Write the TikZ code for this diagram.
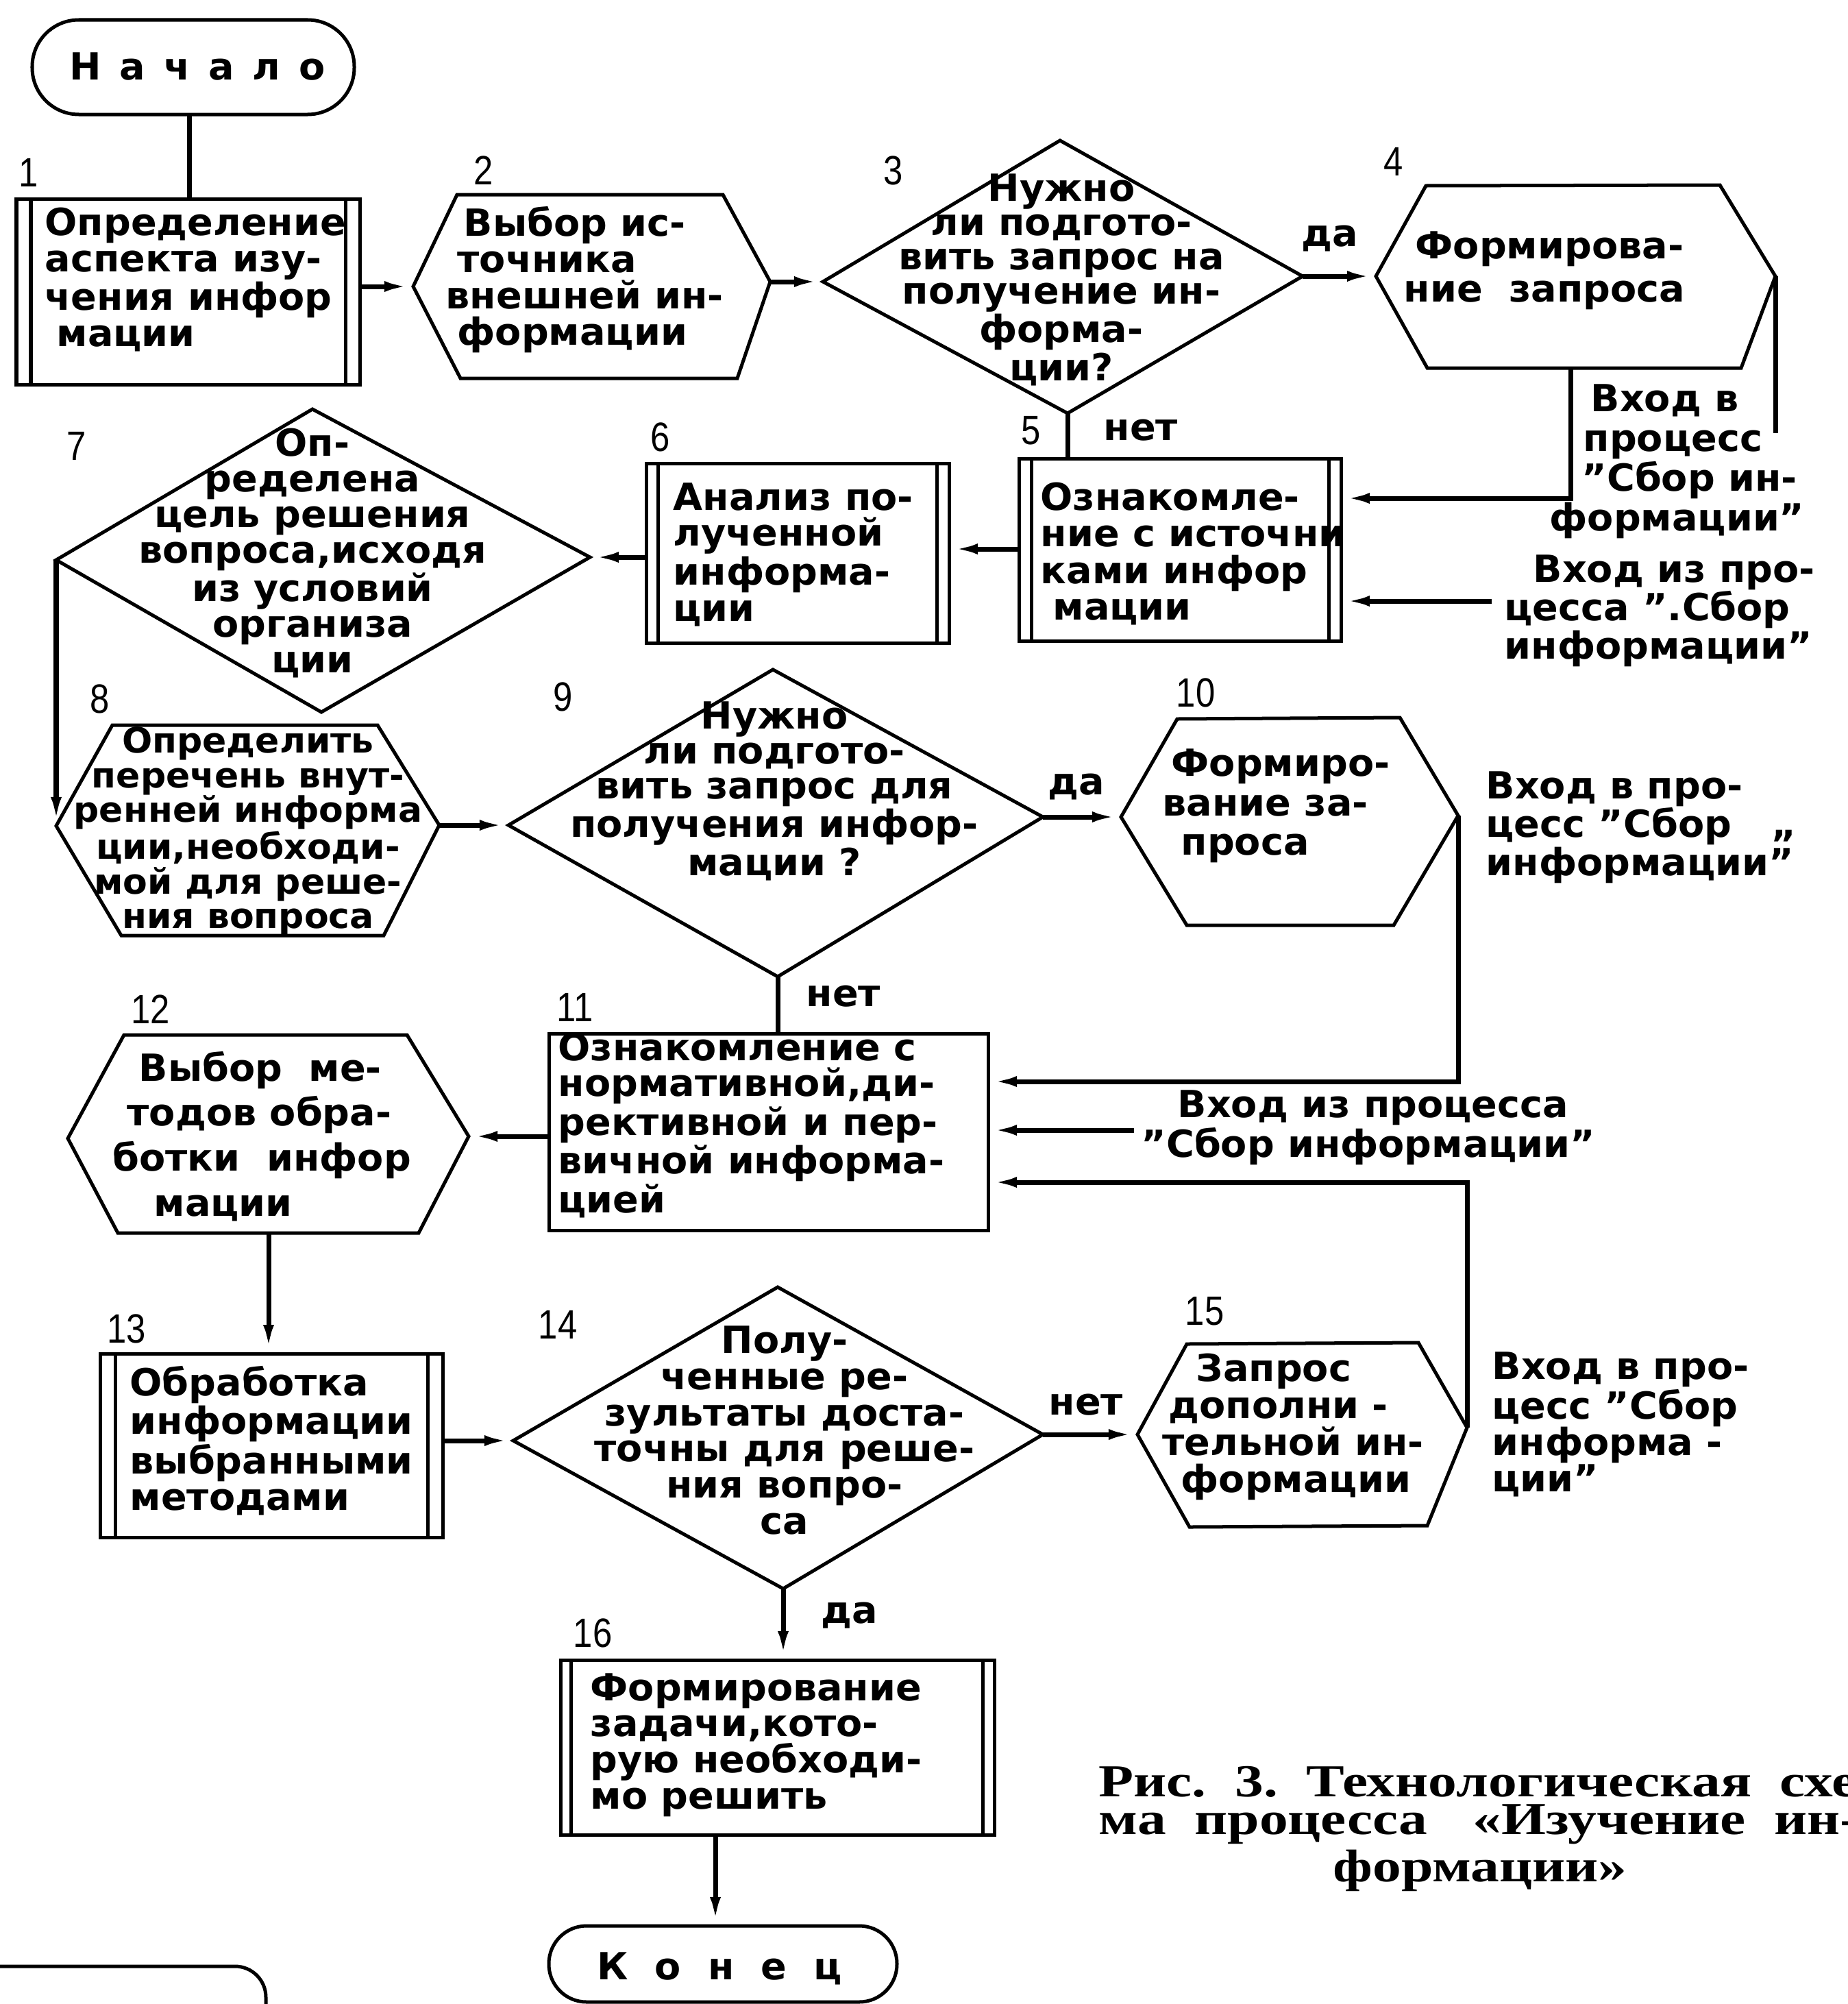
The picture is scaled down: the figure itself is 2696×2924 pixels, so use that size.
\documentclass[tikz,border=0pt]{standalone}
\usepackage{fontspec}
\setmainfont{DejaVu Sans}[FakeStretch=1.02]
\newfontfamily\numfont{Liberation Sans}[FakeStretch=0.85]
\newfontfamily\capfont{Liberation Serif}[FakeStretch=1.25]
\usetikzlibrary{arrows.meta}
\newcommand\tf[1]{\fontsize{15.5}{#1}\selectfont\bfseries}
\newcommand\lsa{\hspace{0.27cm}}
\newcommand\lsb{\hspace{0.39cm}}
\begin{document}
\begin{tikzpicture}[x=0.01cm,y=-0.01cm,
  shp/.style={line width=0.05cm,line join=miter},
  con/.style={line width=0.07cm},
  arr/.style={con,-{Latex[length=0.42cm,width=0.15cm]}},
  txt/.style={inner sep=0pt,align=left,anchor=west,font=\tf{15pt}},
  ctxt/.style={inner sep=0pt,align=center,font=\tf{14.5pt}},
  num/.style={inner sep=0pt,font=\numfont\fontsize{17}{17}\selectfont},
  lbl/.style={inner sep=0pt,font=\tf{15pt}},
  capt/.style={inner sep=0pt,anchor=west,font=\capfont\bfseries\fontsize{19}{19}\selectfont}]
\useasboundingbox (0,0) rectangle (2696,2924);

% ---------- start
\draw[shp,rounded corners=0.68cm] (47,29) rectangle (517,167);
\node[lbl] (start) at (288,97) {Н\lsa а\lsa ч\lsa а\lsa л\lsa о};
\coordinate (startS) at (276,167);

% ---------- box 1
\coordinate (b1N) at (276,290); \coordinate (b1E) at (525,418);
\draw[shp] (24,290) rectangle (525,561);
\draw[shp] (45,290) -- (45,561) (504,290) -- (504,561);
\node[txt] (t1) at (65,408) {Определение\\аспекта изу-\\чения инфор\\\hspace*{0.17cm}мации};
\node[num] (n1) at (42,252) {1};

% ---------- hex 2
\coordinate (h2W) at (603,418); \coordinate (h2E) at (1124,411);
\draw[shp] (h2W) -- (667,284) -- (1055,284) -- (h2E) -- (1076,552) -- (672,552) -- cycle;
\node[txt] (t2) at (650,408) {\hspace*{0.26cm}Выбор ис-\\\hspace*{0.17cm}точника\\внешней ин-\\\hspace*{0.17cm}формации};
\node[num] (n2) at (706,249) {2};

% ---------- diamond 3
\coordinate (d3W) at (1201,411); \coordinate (d3N) at (1547,205);
\coordinate (d3E) at (1901,403); \coordinate (d3S) at (1558,603);
\draw[shp] (d3W) -- (d3N) -- (d3E) -- (d3S) -- cycle;
\node[ctxt,font=\tf{14.2pt}] (t3) at (1549,408) {Нужно\\ли подгото-\\вить запрос на\\получение ин-\\форма-\\ции?};
\node[num] (n3) at (1304,249) {3};
\node[lbl] (da3) at (1941,348) {да};

% ---------- hex 4
\coordinate (h4W) at (2008,403); \coordinate (h4E) at (2591,403);
\coordinate (h4S) at (2292,537); \coordinate (x4) at (2591,632);
\draw[shp] (h4W) -- (2081,271) -- (2510,270) -- (h4E) -- (2541,537) -- (2083,537) -- cycle;
\node[txt,font=\tf{17.9pt}] (t4) at (2048,395) {\hspace*{0.17cm}Формирова-\\ние\ \ запроса};
\node[num] (n4) at (2034,236) {4};
\node[txt,font=\tf{16.5pt}] (e4) at (2261,673) {\hspace*{0.6cm}Вход в\\\hspace*{0.49cm}процесс\\\hspace*{0.47cm}”Сбор ин-\\формации”};

% ---------- box 5
\coordinate (b5N) at (1558,669); \coordinate (b5E1) at (1957,727);
\coordinate (b5E2) at (1957,877); \coordinate (in5) at (2177,877);
\coordinate (b5W) at (1487,801);
\draw[shp] (1487,669) rectangle (1957,935);
\draw[shp] (1505,669) -- (1505,935) (1939,669) -- (1939,935);
\node[txt,font=\tf{15.2pt}] (t5) at (1518,808) {Ознакомле-\\ние с источни\\ками инфор\\\hspace*{0.18cm}мации};
\node[num] (n5) at (1505,628) {5};
\node[lbl] (net3) at (1665,628) {нет};
\node[txt,font=\tf{15.9pt}] (e5) at (2195,891) {\hspace*{0.42cm}Вход из про-\\цесса ”.Сбор\\информации”};

% ---------- box 6
\coordinate (b6E) at (1385,801); \coordinate (b6W) at (943,813);
\draw[shp] (943,676) rectangle (1385,938);
\draw[shp] (960,676) -- (960,938) (1367,676) -- (1367,938);
\node[txt,font=\tf{15pt}] (t6) at (982,809) {Анализ по-\\лученной\\информа-\\ции};
\node[num] (n6) at (964,638) {6};

% ---------- diamond 7
\coordinate (d7N) at (456,597); \coordinate (d7W) at (82,817);
\coordinate (d7E) at (861,813); \coordinate (d7S) at (469,1039);
\draw[shp] (d7W) -- (d7N) -- (d7E) -- (d7S) -- cycle;
\node[ctxt,font=\tf{14.8pt}] (t7) at (456,807) {Оп-\\ределена\\цель решения\\вопроса,исходя\\из условий\\организа\\ции};
\node[num] (n7) at (112,651) {7};

% ---------- hex 8
\coordinate (h8W) at (82,1205); \coordinate (h8E) at (641,1204);
\draw[shp] (h8W) -- (164,1058) -- (551,1058) -- (h8E) -- (560,1365) -- (177,1365) -- cycle;
\node[ctxt,font=\fontsize{14.5}{14.3}\selectfont\bfseries] (t8) at (362,1213) {Определить\\перечень внут-\\ренней информа\\ции,необходи-\\мой для реше-\\ния вопроса};
\node[num] (n8) at (146,1020) {8};

% ---------- diamond 9
\coordinate (d9N) at (1128,977); \coordinate (d9W) at (742,1204);
\coordinate (d9E) at (1522,1192); \coordinate (d9S) at (1135,1425);
\draw[shp] (d9W) -- (d9N) -- (d9E) -- (d9S) -- cycle;
\node[ctxt,font=\tf{14.5pt}] (t9) at (1130,1154) {Нужно\\ли подгото-\\вить запрос для\\получения инфор-\\мации ?};
\node[num] (n9) at (822,1017) {9};
\node[lbl] (da9) at (1571,1148) {да};
\node[lbl] (net9) at (1231,1454) {нет};

% ---------- hex 10
\coordinate (h10W) at (1636,1192); \coordinate (h10E) at (2128,1190);
\draw[shp] (h10W) -- (1718,1049) -- (2043,1047) -- (h10E) -- (2034,1350) -- (1732,1350) -- cycle;
\node[txt,font=\tf{16.3pt}] (t10) at (1696,1176) {\hspace*{0.13cm}Формиро-\\вание за-\\\hspace*{0.27cm}проса};
\node[num] (n10) at (1745,1011) {10};
\node[txt,font=\tf{15.9pt}] (e10) at (2168,1207) {Вход в про-\\цесс ”Сбор\ \ \ „\\информации”};

% ---------- box 11
\coordinate (b11N) at (1135,1508); \coordinate (b11W) at (801,1658);
\coordinate (b11E1) at (1442,1578); \coordinate (b11E2) at (1442,1649);
\coordinate (b11E3) at (1442,1725); \coordinate (in11) at (1655,1649);
\draw[shp] (801,1508) rectangle (1442,1795);
\node[txt,font=\tf{14.7pt}] (t11) at (814,1642) {Ознакомление с\\нормативной,ди-\\рективной и пер-\\вичной информа-\\цией};
\node[num] (n11) at (839,1470) {11};
\node[txt,font=\tf{14.8pt}] (e11) at (1665,1645) {\hspace*{0.53cm}Вход из процесса\\”Сбор информации”};

% ---------- hex 12
\coordinate (h12E) at (684,1658); \coordinate (h12S) at (392,1799);
\draw[shp] (99,1661) -- (181,1510) -- (594,1510) -- (h12E) -- (611,1799) -- (172,1799) -- cycle;
\node[txt,font=\tf{18.7pt}] (t12) at (164,1658) {\hspace*{0.38cm}Выбор\ \ ме-\\\hspace*{0.21cm}тодов обра-\\ботки\ \ инфор\\\hspace*{0.6cm}мации};
\node[num] (n12) at (220,1473) {12};

% ---------- box 13
\coordinate (b13N) at (392,1975); \coordinate (b13E) at (646,2102);
\draw[shp] (146,1975) rectangle (646,2243);
\draw[shp] (168,1975) -- (168,2243) (624,1975) -- (624,2243);
\node[txt,font=\tf{14.9pt}] (t13) at (189,2102) {Обработка\\информации\\выбранными\\методами};
\node[num] (n13) at (185,1939) {13};

% ---------- diamond 14
\coordinate (d14N) at (1135,1878); \coordinate (d14W) at (749,2102);
\coordinate (d14E) at (1522,2093); \coordinate (d14S) at (1143,2318);
\draw[shp] (d14W) -- (d14N) -- (d14E) -- (d14S) -- cycle;
\node[ctxt,font=\tf{15pt}] (t14) at (1145,2087) {Полу-\\ченные ре-\\зультаты доста-\\точны для реше-\\ния вопро-\\са};
\node[num] (n14) at (814,1933) {14};
\node[lbl] (net14) at (1585,2050) {нет};
\node[lbl] (da14) at (1240,2357) {да};

% ---------- hex 15
\coordinate (h15W) at (1660,2093); \coordinate (h15E) at (2141,2083);
\draw[shp] (h15W) -- (1732,1961) -- (2070,1959) -- (h15E) -- (2083,2226) -- (1736,2228) -- cycle;
\node[txt,font=\tf{15.4pt}] (t15) at (1696,2082) {\hspace*{0.49cm}Запрос\\\hspace*{0.09cm}дополни -\\тельной ин-\\\hspace*{0.27cm}формации};
\node[num] (n15) at (1758,1913) {15};
\node[txt,font=\tf{15.1pt}] (e15) at (2177,2078) {Вход в про-\\цесс ”Сбор\\информа -\\ции”};

% ---------- box 16
\coordinate (b16N) at (1143,2422); \coordinate (b16S) at (1044,2677);
\draw[shp] (818,2422) rectangle (1451,2677);
\draw[shp] (833,2422) -- (833,2677) (1434,2422) -- (1434,2677);
\node[txt,font=\tf{15pt}] (t16) at (861,2546) {Формирование\\задачи,кото-\\рую необходи-\\мо решить};
\node[num] (n16) at (865,2383) {16};

% ---------- end
\coordinate (endN) at (1044,2810);
\draw[shp,rounded corners=0.55cm] (801,2810) rectangle (1309,2921);
\node[lbl] (end) at (1050,2872) {К\lsb о\lsb н\lsb е\lsb ц};

% ---------- partial pill at bottom left
\draw[shp,rounded corners=0.45cm] (-100,2869) rectangle (388,3050);

% ---------- caption
\node[capt] (cap1) at (1603,2600) {Рис.\ \ 3.\ \ Технологическая\ \ схе-};
\node[capt] (cap2) at (1603,2662) {ма\ \ процесса\quad «Изучение\ \ ин-};
\node[capt,anchor=center] (cap3) at (2160,2729) {формации»};

% ---------- connectors
\draw[con] (startS) -- (b1N);
\draw[arr] (b1E) -- (h2W);
\draw[arr] (h2E) -- (d3W);
\draw[arr] (d3E) -- (h4W);
\draw[con] (h4E) -- (x4);
\draw[con] (d3S) -- (b5N);
\draw[arr] (h4S) |- (b5E1);
\draw[arr] (in5) -- (b5E2);
\draw[arr] (b5W) -- (b6E);
\draw[arr] (b6W) -- (d7E);
\draw[arr] (d7W) -- (h8W);
\draw[arr] (h8E) -- (d9W);
\draw[arr] (d9E) -- (h10W);
\draw[con] (d9S) -- (b11N);
\draw[arr] (h10E) |- (b11E1);
\draw[arr] (in11) -- (b11E2);
\draw[arr] (h15E) |- (b11E3);
\draw[arr] (b11W) -- (h12E);
\draw[arr] (h12S) -- (b13N);
\draw[arr] (b13E) -- (d14W);
\draw[arr] (d14E) -- (h15W);
\draw[arr] (d14S) -- (b16N);
\draw[arr] (b16S) -- (endN);
\end{tikzpicture}
\end{document}
